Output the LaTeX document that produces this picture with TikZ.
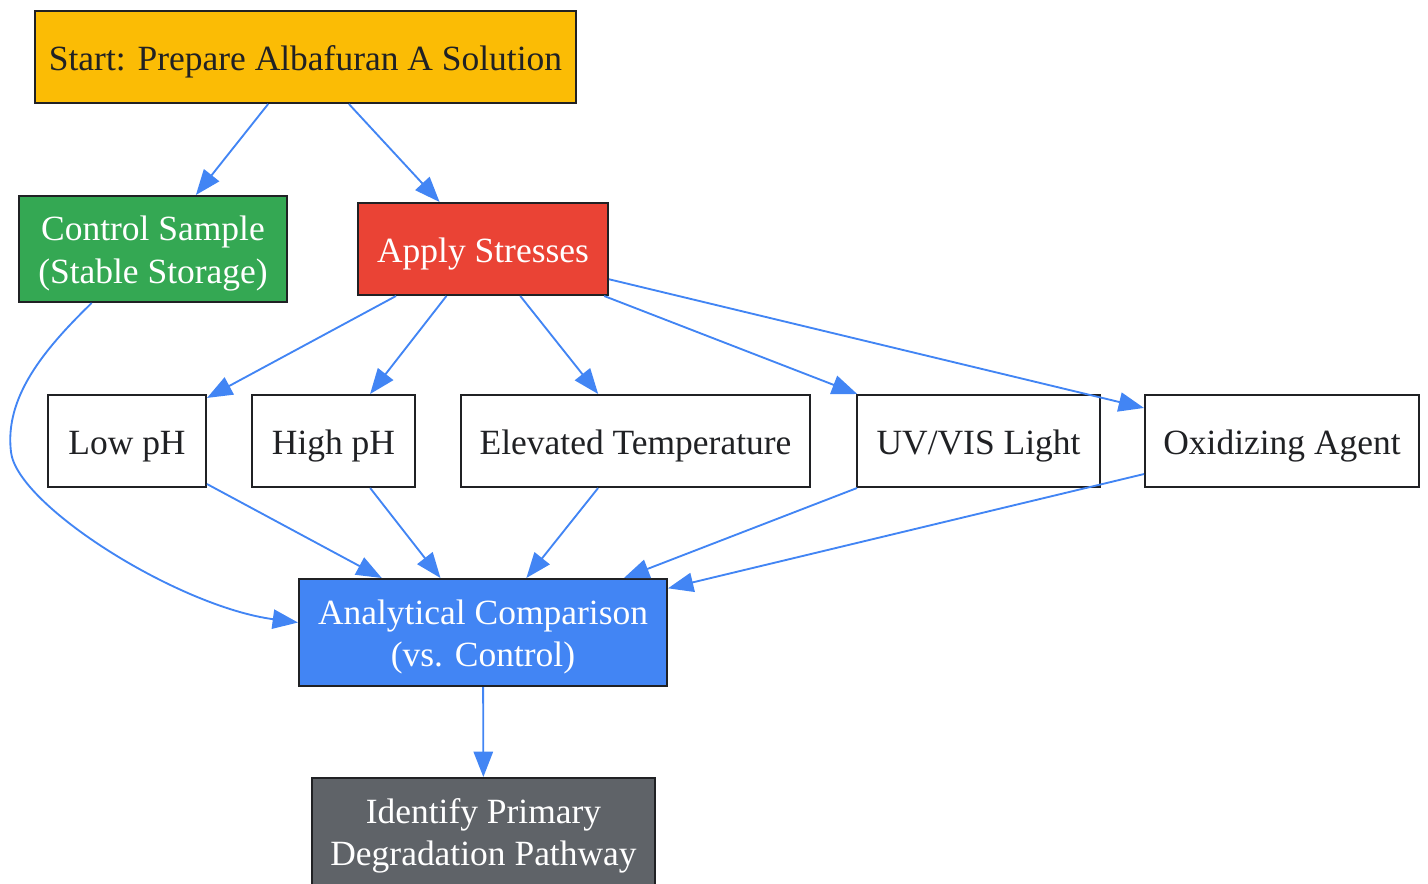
\documentclass[tikz,border=0pt]{standalone}
\usepackage{fontspec}
\setmainfont{Liberation Serif}
\usepackage{xcolor}
\usetikzlibrary{arrows.meta}

\definecolor{gyellow}{HTML}{FBBC05}
\definecolor{ggreen}{HTML}{34A853}
\definecolor{gred}{HTML}{EA4335}
\definecolor{gblue}{HTML}{4285F4}
\definecolor{ggrey}{HTML}{5F6368}
\definecolor{gdark}{HTML}{202124}

\begin{document}
\begin{tikzpicture}[x=0.75pt,y=-0.75pt,
    box/.style={draw=gdark, line width=1.5pt, inner sep=0pt, align=center,
                font=\fontsize{26.6}{32}\selectfont, text=gdark, fill=white},
    oneline/.style={text height=25.5pt, text depth=5.8pt},
    twoline/.style={text height=57.5pt, text depth=5.8pt},
    flow/.style={draw=gblue, line width=1.4pt, -{Triangle[length=19pt,width=14.5pt]}}]
  \clip (0,0) rectangle (1428,883);

  % Top of the flow
  \node[box, oneline, fill=gyellow, minimum width=405.75pt, minimum height=69pt]
    (start) at (305.5,57) {Start: Prepare Albafuran A Solution};
  \node[box, twoline, fill=ggreen, text=white, minimum width=201pt, minimum height=79.5pt]
    (control) at (153,249) {Control Sample\\(Stable Storage)};
  \node[box, oneline, fill=gred, text=white, minimum width=187.5pt, minimum height=69pt]
    (stress) at (483,249) {Apply Stresses};

  % Stress conditions
  \node[box, oneline, minimum width=118.5pt, minimum height=69pt] (lowph) at (127,441) {Low pH};
  \node[box, oneline, minimum width=122.25pt, minimum height=69pt] (highph) at (333.5,441) {High pH};
  \node[box, oneline, minimum width=261.75pt, minimum height=69pt] (heat) at (635.5,441) {Elevated Temperature};
  \node[box, oneline, minimum width=182.25pt, minimum height=69pt] (light) at (978.5,441) {UV/VIS Light};
  \node[box, oneline, minimum width=205.5pt, minimum height=69pt] (oxid) at (1282,441) {Oxidizing Agent};

  % Analysis
  \node[box, twoline, fill=gblue, text=white, minimum width=276pt, minimum height=80.25pt]
    (compare) at (483,632.5) {Analytical Comparison\\(vs. Control)};
  \node[box, twoline, fill=ggrey, text=white, minimum width=257.25pt, minimum height=80.25pt]
    (pathway) at (483.5,831.5) {Identify Primary\\Degradation Pathway};

  % Connectors
  \draw[flow] (start) -- (control);
  \draw[flow] (start) -- (stress);
  \foreach \c in {lowph,highph,heat,light,oxid} {
    \draw[flow] (stress) -- (\c);
    \draw[flow] (\c) -- (compare);
  }
  \coordinate (bend) at (11,452);
  \draw[flow] ([xshift=-46pt]control.south)
    .. controls +(-36pt,-35pt) and +(-5pt,41pt) .. (bend)
    .. controls +(4.5pt,-40pt) and +(-90pt,12pt) .. ([yshift=7.5pt]compare.west);
  \draw[flow] (compare) -- (pathway);
\end{tikzpicture}
\end{document}
